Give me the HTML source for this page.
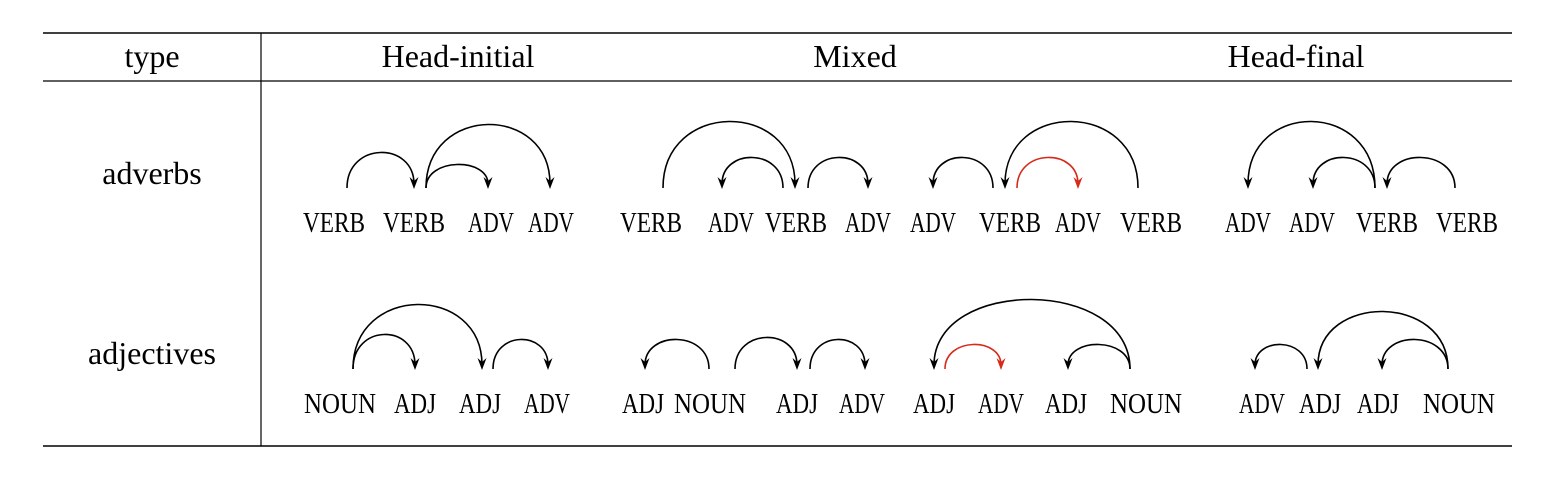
<!DOCTYPE html>
<html><head><meta charset="utf-8"><style>
html,body{margin:0;padding:0;background:#fff}
svg{display:block}
.t{font-family:"Liberation Serif",serif;font-size:32px;fill:#000}
.w{font-family:"Liberation Serif",serif;font-size:29px;fill:#000}
</style></head><body>
<svg id="s" width="1554" height="478" viewBox="0 0 1554 478" xmlns="http://www.w3.org/2000/svg">
<line x1="43" y1="33" x2="1512" y2="33" stroke="#000" stroke-width="1.5"/>
<line x1="43" y1="81" x2="1512" y2="81" stroke="#000" stroke-width="1.2"/>
<line x1="43" y1="446" x2="1512" y2="446" stroke="#000" stroke-width="1.5"/>
<line x1="261" y1="33" x2="261" y2="446" stroke="#000" stroke-width="1.2"/>
<text class="t" x="152" y="67" text-anchor="middle">type</text>
<text class="t" x="458" y="67" text-anchor="middle">Head-initial</text>
<text class="t" x="855" y="67" text-anchor="middle">Mixed</text>
<text class="t" x="1296" y="67" text-anchor="middle">Head-final</text>
<text class="t" x="152" y="184" text-anchor="middle">adverbs</text>
<text class="t" x="152" y="364" text-anchor="middle">adjectives</text>
<g id="marks"></g>
</svg>
<script>
const row1Words = [["VERB",334],["VERB",414],["ADV",491],["ADV",551],["VERB",651],["ADV",731],["VERB",796],["ADV",868],["ADV",933],["VERB",1010],["ADV",1078],["VERB",1151],["ADV",1248],["ADV",1312],["VERB",1387],["VERB",1467]];
const row2Words = [["NOUN",340],["ADJ",415],["ADJ",480],["ADV",547],["ADJ",643],["NOUN",710],["ADJ",797],["ADV",862],["ADJ",934],["ADV",1001],["ADJ",1066],["NOUN",1146],["ADV",1262],["ADJ",1320],["ADJ",1378],["NOUN",1459]];
const row1Arcs = [[347,414,153,0],[426,488,165,0],[426,550,125,0],[663,795,122,0],[783,722,158,0],[808,868,158,0],[993,933,158,0],[1138,1005,122,0],[1017,1078,158,1],[1375,1248,122,0],[1375,1313,158,0],[1455,1387,158,0]];
const row2Arcs = [[353,415,335,0],[353,482,305,0],[493,548,340,0],[709,645,340,0],[735,797,338,0],[810,865,340,0],[1130,934,300,0],[945,1001,345,1],[1130,1068,345,0],[1307,1255,345,0],[1448,1318,312,0],[1448,1382,340,0]];
const NS="http://www.w3.org/2000/svg";
const g=document.getElementById('marks');
const widths={VERB:62,ADV:46,ADJ:42,NOUN:72};
function drawWords(words,y,nm){
  words.forEach(([w,x])=>{
    const t=document.createElementNS(NS,'text');
    
    
    t.setAttribute('class','w');t.setAttribute('x',x-widths[w]/2);t.setAttribute('y',y);
    t.setAttribute('textLength',widths[w]);t.setAttribute('lengthAdjust','spacingAndGlyphs');
    t.textContent=w;g.appendChild(t);
  });
}
function drawArcs(arcs,base,nm){
  arcs.forEach(([x1,x2,top,red])=>{
    const col=red?'#d62a1a':'#000';
    const c=base-(base-top)/0.75;
    const p=document.createElementNS(NS,'path');
    
    
    p.setAttribute('d',`M${x1},${base} C${x1},${c} ${x2},${c} ${x2},${base-4}`);
    p.setAttribute('fill','none');p.setAttribute('stroke',col);p.setAttribute('stroke-width','1.6');
    g.appendChild(p);
    const a=document.createElementNS(NS,'path');
    
    
    a.setAttribute('d',`M${x2-4.5},${base-11} L${x2},${base+1} L${x2+4.5},${base-11} L${x2},${base-7} Z`);
    a.setAttribute('fill',col);g.appendChild(a);
  });
}
drawWords(row1Words,232,'adverbs');
drawWords(row2Words,413,'adjectives');
drawArcs(row1Arcs,188,'adverbs');
drawArcs(row2Arcs,369,'adjectives');
</script>
</body></html>
